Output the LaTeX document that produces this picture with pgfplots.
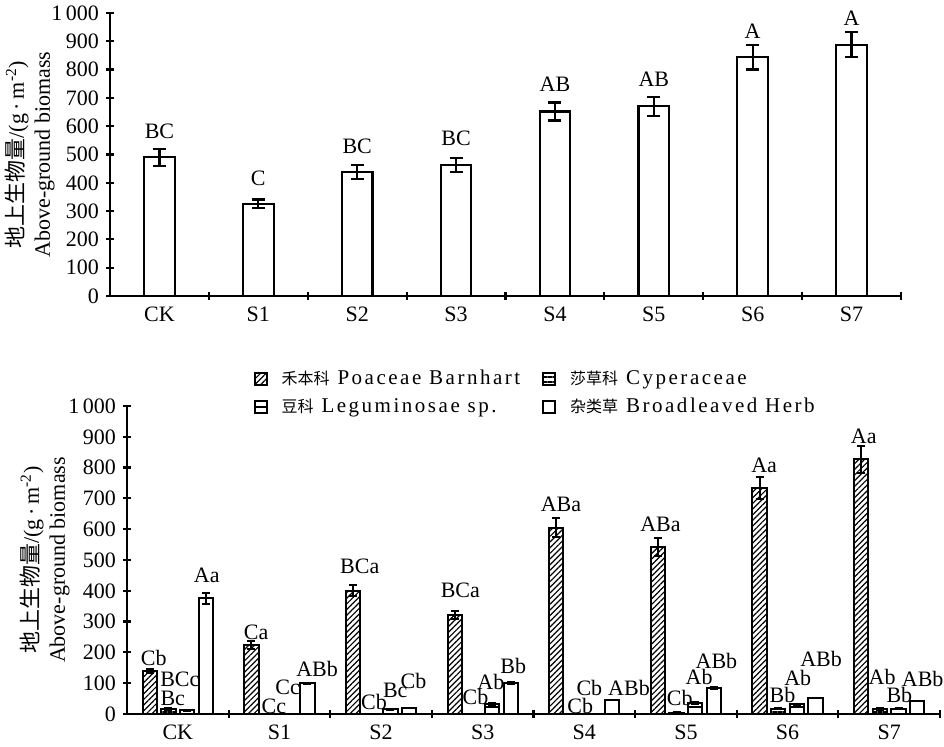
\documentclass[border=0pt]{standalone}
\usepackage{fontspec}
\setmainfont{Liberation Serif}
\newfontfamily\cjk{Noto Sans CJK SC}
\newfontfamily\lser[LetterSpace=12]{Liberation Serif}
\usepackage{pgfplots}
\pgfplotsset{compat=1.18}
\usetikzlibrary{patterns.meta}
\newcommand\f{\fontsize{11}{13}\selectfont}
\newcommand\leg[2]{{\fontsize{8}{10}\cjk #1}\hspace{4pt}{\fontsize{10.5}{12}\lser #2}}
\pgfplotsset{
 mystyle/.style={
  scale only axis, xmin=-0.5, xmax=7.5, ymin=0, ymax=1000,
  axis lines=left, axis line style={-, line width=1.1pt},
  xtick={0,...,7}, xticklabels={CK,S1,S2,S3,S4,S5,S6,S7},
  minor xtick={0.5,1.5,...,7.5},
  every major x tick/.append style={draw=none},
  ytick={0,100,...,1000},
  major tick length=4pt, minor tick length=4pt,
  every tick/.append style={line width=1.1pt, black},
  tick label style={font=\f},
  /pgf/number format/assume math mode=true,
  /pgf/number format/1000 sep={\,},
  ylabel style={font=\f, align=center, at={(axis description cs:-0.101,0.5)}, anchor=center},
  ylabel={{\cjk 地上生物量}/(g\,·\,m\textsuperscript{-2})\\Above-ground biomass},
  clip=false,
 },
 lab/.style={draw=none, nodes near coords, point meta=explicit symbolic,
  nodes near coords style={font=\f, anchor=center, inner sep=0pt}},
 sq/.style={legend image code/.code={\draw[##1, line width=0.9pt] (0pt,-3pt) rectangle (6pt,3pt);}},
 eb/.style={error bars/.cd, y dir=both, y explicit,
  error bar style={line width=1pt, black},
  error mark options={rotate=90, mark size=2pt, line width=1pt, black}},
}
\begin{document}
\begin{tikzpicture}
\useasboundingbox (0,0) rectangle (472pt,-373.5pt);
% ---------- top ----------
\begin{axis}[mystyle, at={(55pt,-148pt)}, anchor=south west, width=395.5pt, height=141.5pt]
\addplot[ybar, bar width=0.31, bar shift=0, fill=white, draw=black, line width=1.1pt,
  error bars/.cd, y dir=both, y explicit,
  error bar style={line width=1.1pt, black},
  error mark options={rotate=90, mark size=3.25pt, line width=1.1pt, black}]
 coordinates {(0,490) +- (0,30) (1,326) +- (0,15) (2,438) +- (0,26) (3,463) +- (0,26)
  (4,652) +- (0,32) (5,670) +- (0,34) (6,844) +- (0,44) (7,888) +- (0,44)};
\addplot[lab] table[meta=lab]{
x y lab
0 583 BC
1 417 C
2 530 BC
3 558 BC
4 749 AB
5 767 AB
6 936 A
7 982 A
};
\end{axis}
% ---------- bottom ----------
\begin{axis}[mystyle, at={(63.5pt,-357pt)}, anchor=south west, width=406.5pt, height=154pt,
  legend columns=2,
  legend style={at={(rel axis cs:0.148,1.143)}, anchor=north west, draw=none, fill=none,
   row sep=1pt,
   /tikz/every odd column/.append style={column sep=5pt},
   /tikz/every even column/.append style={column sep=9pt}, cells={anchor=west}},
]
% Poaceae (x = group - 0.276)
\addplot[ybar, bar width=0.14, bar shift=0, draw=black, line width=1pt,
  pattern={Lines[angle=45,distance=2pt,line width=0.6pt]}, sq, eb]
 coordinates {(-0.276,140) +- (0,7) (0.724,224) +- (0,12) (1.724,400) +- (0,18) (2.724,322) +- (0,12)
  (3.724,605) +- (0,30) (4.724,543) +- (0,30) (5.724,733) +- (0,36) (6.724,827) +- (0,43)};
\addlegendentry{\leg{禾本科}{Poaceae Barnhart}}
% Cyperaceae (x = group - 0.092)
\addplot[ybar, bar width=0.14, bar shift=0, draw=black, line width=1pt,
  pattern={Lines[angle=0,distance=2.5pt,line width=1.2pt]}, sq, eb]
 coordinates {(-0.092,17) +- (0,3) (0.908,0) +- (0,0) (1.908,0) +- (0,0) (2.908,0) +- (0,0)
  (3.908,0) +- (0,0) (4.908,3) +- (0,2) (5.908,17) +- (0,2) (6.908,16) +- (0,2)};
\addlegendentry{\leg{莎草科}{Cyperaceae}}
% Leguminosae (x = group + 0.092)
\addplot[ybar, bar width=0.14, bar shift=0, draw=black, line width=1pt,
  pattern={Lines[angle=0,distance=5pt,line width=0.8pt]}, sq, eb]
 coordinates {(0.092,12) +- (0,1) (1.092,0) +- (0,0) (2.092,15) +- (0,2) (3.092,32) +- (0,3)
  (4.092,0) +- (0,0) (5.092,35) +- (0,3) (6.092,31) +- (0,2) (7.092,17) +- (0,2)};
\addlegendentry{\leg{豆科}{Leguminosae sp.}}
% Broadleaved herb (x = group + 0.276)
\addplot[ybar, bar width=0.14, bar shift=0, draw=black, fill=white, line width=1pt, sq, eb]
 coordinates {(0.276,376) +- (0,18) (1.276,100) +- (0,2) (2.276,18) +- (0,0) (3.276,101) +- (0,3)
  (4.276,45) +- (0,0) (5.276,85) +- (0,3) (6.276,51) +- (0,0) (7.276,43) +- (0,0)};
\addlegendentry{\leg{杂类草}{Broadleaved Herb}}
\addplot[lab, forget plot] table[meta=lab]{
x y lab
-0.236 182 Cb
0.02 114 BCc
-0.05 52 Bc
0.285 451 Aa
0.77 266 Ca
0.945 26 Cc
1.08 88 Cc
1.37 146 ABb
1.79 478 BCa
1.93 40 Cb
2.14 78 Bc
2.32 107 Cb
2.78 400 BCa
2.93 55 Cb
3.08 104 Ab
3.30 156 Bb
3.77 682 ABa
3.96 26 Cb
4.05 84 Cb
4.44 84 ABb
4.75 617 ABa
4.94 52 Cb
5.13 120 Ab
5.30 172 ABb
5.77 808 Aa
5.95 62 Bb
6.10 117 Ab
6.33 178 ABb
6.75 903 Aa
6.93 120 Ab
7.10 62 Bb
7.33 114 ABb
};
\end{axis}
\end{tikzpicture}
\end{document}
